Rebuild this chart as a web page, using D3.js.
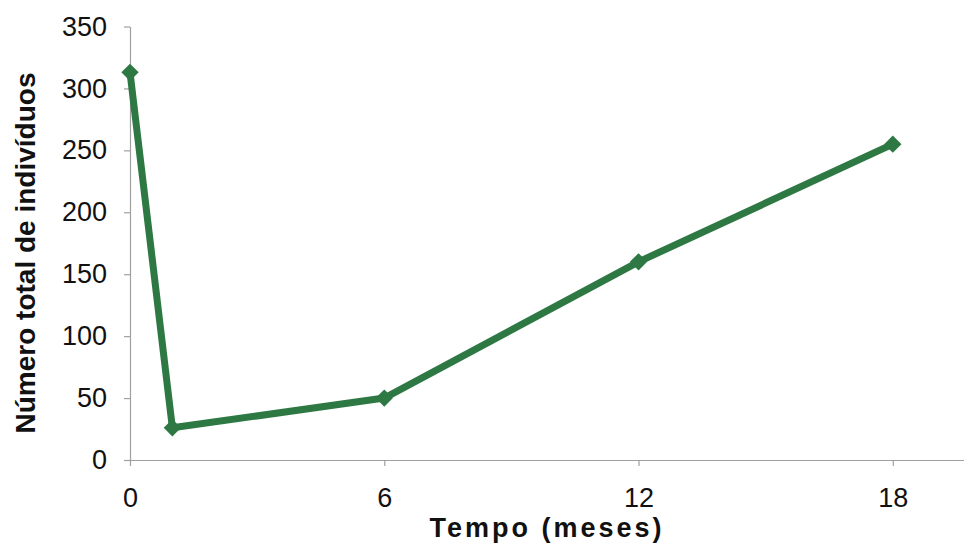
<!DOCTYPE html>
<html>
<head>
<meta charset="utf-8">
<script src="https://cdn.jsdelivr.net/npm/d3@7"></script>
<style>
  html, body { margin: 0; padding: 0; background: #fff; }
  svg { display: block; }
</style>
</head>
<body>
<svg id="chart" width="964" height="549"></svg>
<script>
// Total number of individuals over time (months)
const months = [0, 1, 6, 12, 18];
const individuals = [313, 26, 50, 160, 255];
const xTicks = [0, 6, 12, 18];
const yTicks = [0, 50, 100, 150, 200, 250, 300, 350];

const svg = d3.select("#chart");
const lineColor = "#2e7844";
const axisColor = "#a0a0a0";
const font = "'Liberation Sans', Arial, sans-serif";

const x = d3.scaleLinear().domain([0, 19.68]).range([130, 964]);
const y = d3.scaleLinear().domain([0, 350]).range([460, 26.5]);

// Y axis
const yAxis = svg.append("g")
  .attr("transform", "translate(130,0)")
  .call(d3.axisLeft(y).tickValues(yTicks).tickSize(6).tickPadding(17).tickSizeOuter(0));
yAxis.select(".domain").attr("stroke", axisColor).attr("stroke-width", 1.2);
yAxis.selectAll(".tick line").attr("stroke", axisColor).attr("stroke-width", 1.2);
yAxis.selectAll(".tick text")
  .attr("fill", "#111").style("font-family", font).style("font-size", "27px");

// X axis
const xAxis = svg.append("g")
  .attr("transform", "translate(0,460)")
  .call(d3.axisBottom(x).tickValues(xTicks).tickSize(6).tickPadding(22).tickSizeOuter(0));
xAxis.select(".domain").attr("stroke", axisColor).attr("stroke-width", 1.2);
xAxis.selectAll(".tick line").attr("stroke", axisColor).attr("stroke-width", 1.2);
xAxis.selectAll(".tick text")
  .attr("fill", "#111").style("font-family", font).style("font-size", "27px");

// Axis titles
svg.append("text")
  .attr("x", 547).attr("y", 537)
  .attr("text-anchor", "middle")
  .style("font-family", font).style("font-size", "27px").style("font-weight", "bold")
  .style("letter-spacing", "3px")
  .attr("fill", "#111")
  .text("Tempo (meses)");

svg.append("text")
  .attr("transform", "translate(35,253) rotate(-90)")
  .attr("text-anchor", "middle")
  .style("font-family", font).style("font-size", "28px").style("font-weight", "bold")
  .attr("fill", "#111")
  .text("Número total de indivíduos");

// Series line
const pts = months.map((m, i) => [m, individuals[i]]);
svg.append("path")
  .datum(pts)
  .attr("fill", "none")
  .attr("stroke", lineColor)
  .attr("stroke-width", 7)
  .attr("stroke-linejoin", "round")
  .attr("d", d3.line().x(d => x(d[0])).y(d => y(d[1])));

// Diamond markers
const diamond = d3.symbol().type(d3.symbolSquare).size(150);
svg.append("g").selectAll("path")
  .data(pts)
  .join("path")
  .attr("transform", d => `translate(${x(d[0])},${y(d[1])}) rotate(45)`)
  .attr("d", diamond)
  .attr("fill", lineColor);
</script>
</body>
</html>
